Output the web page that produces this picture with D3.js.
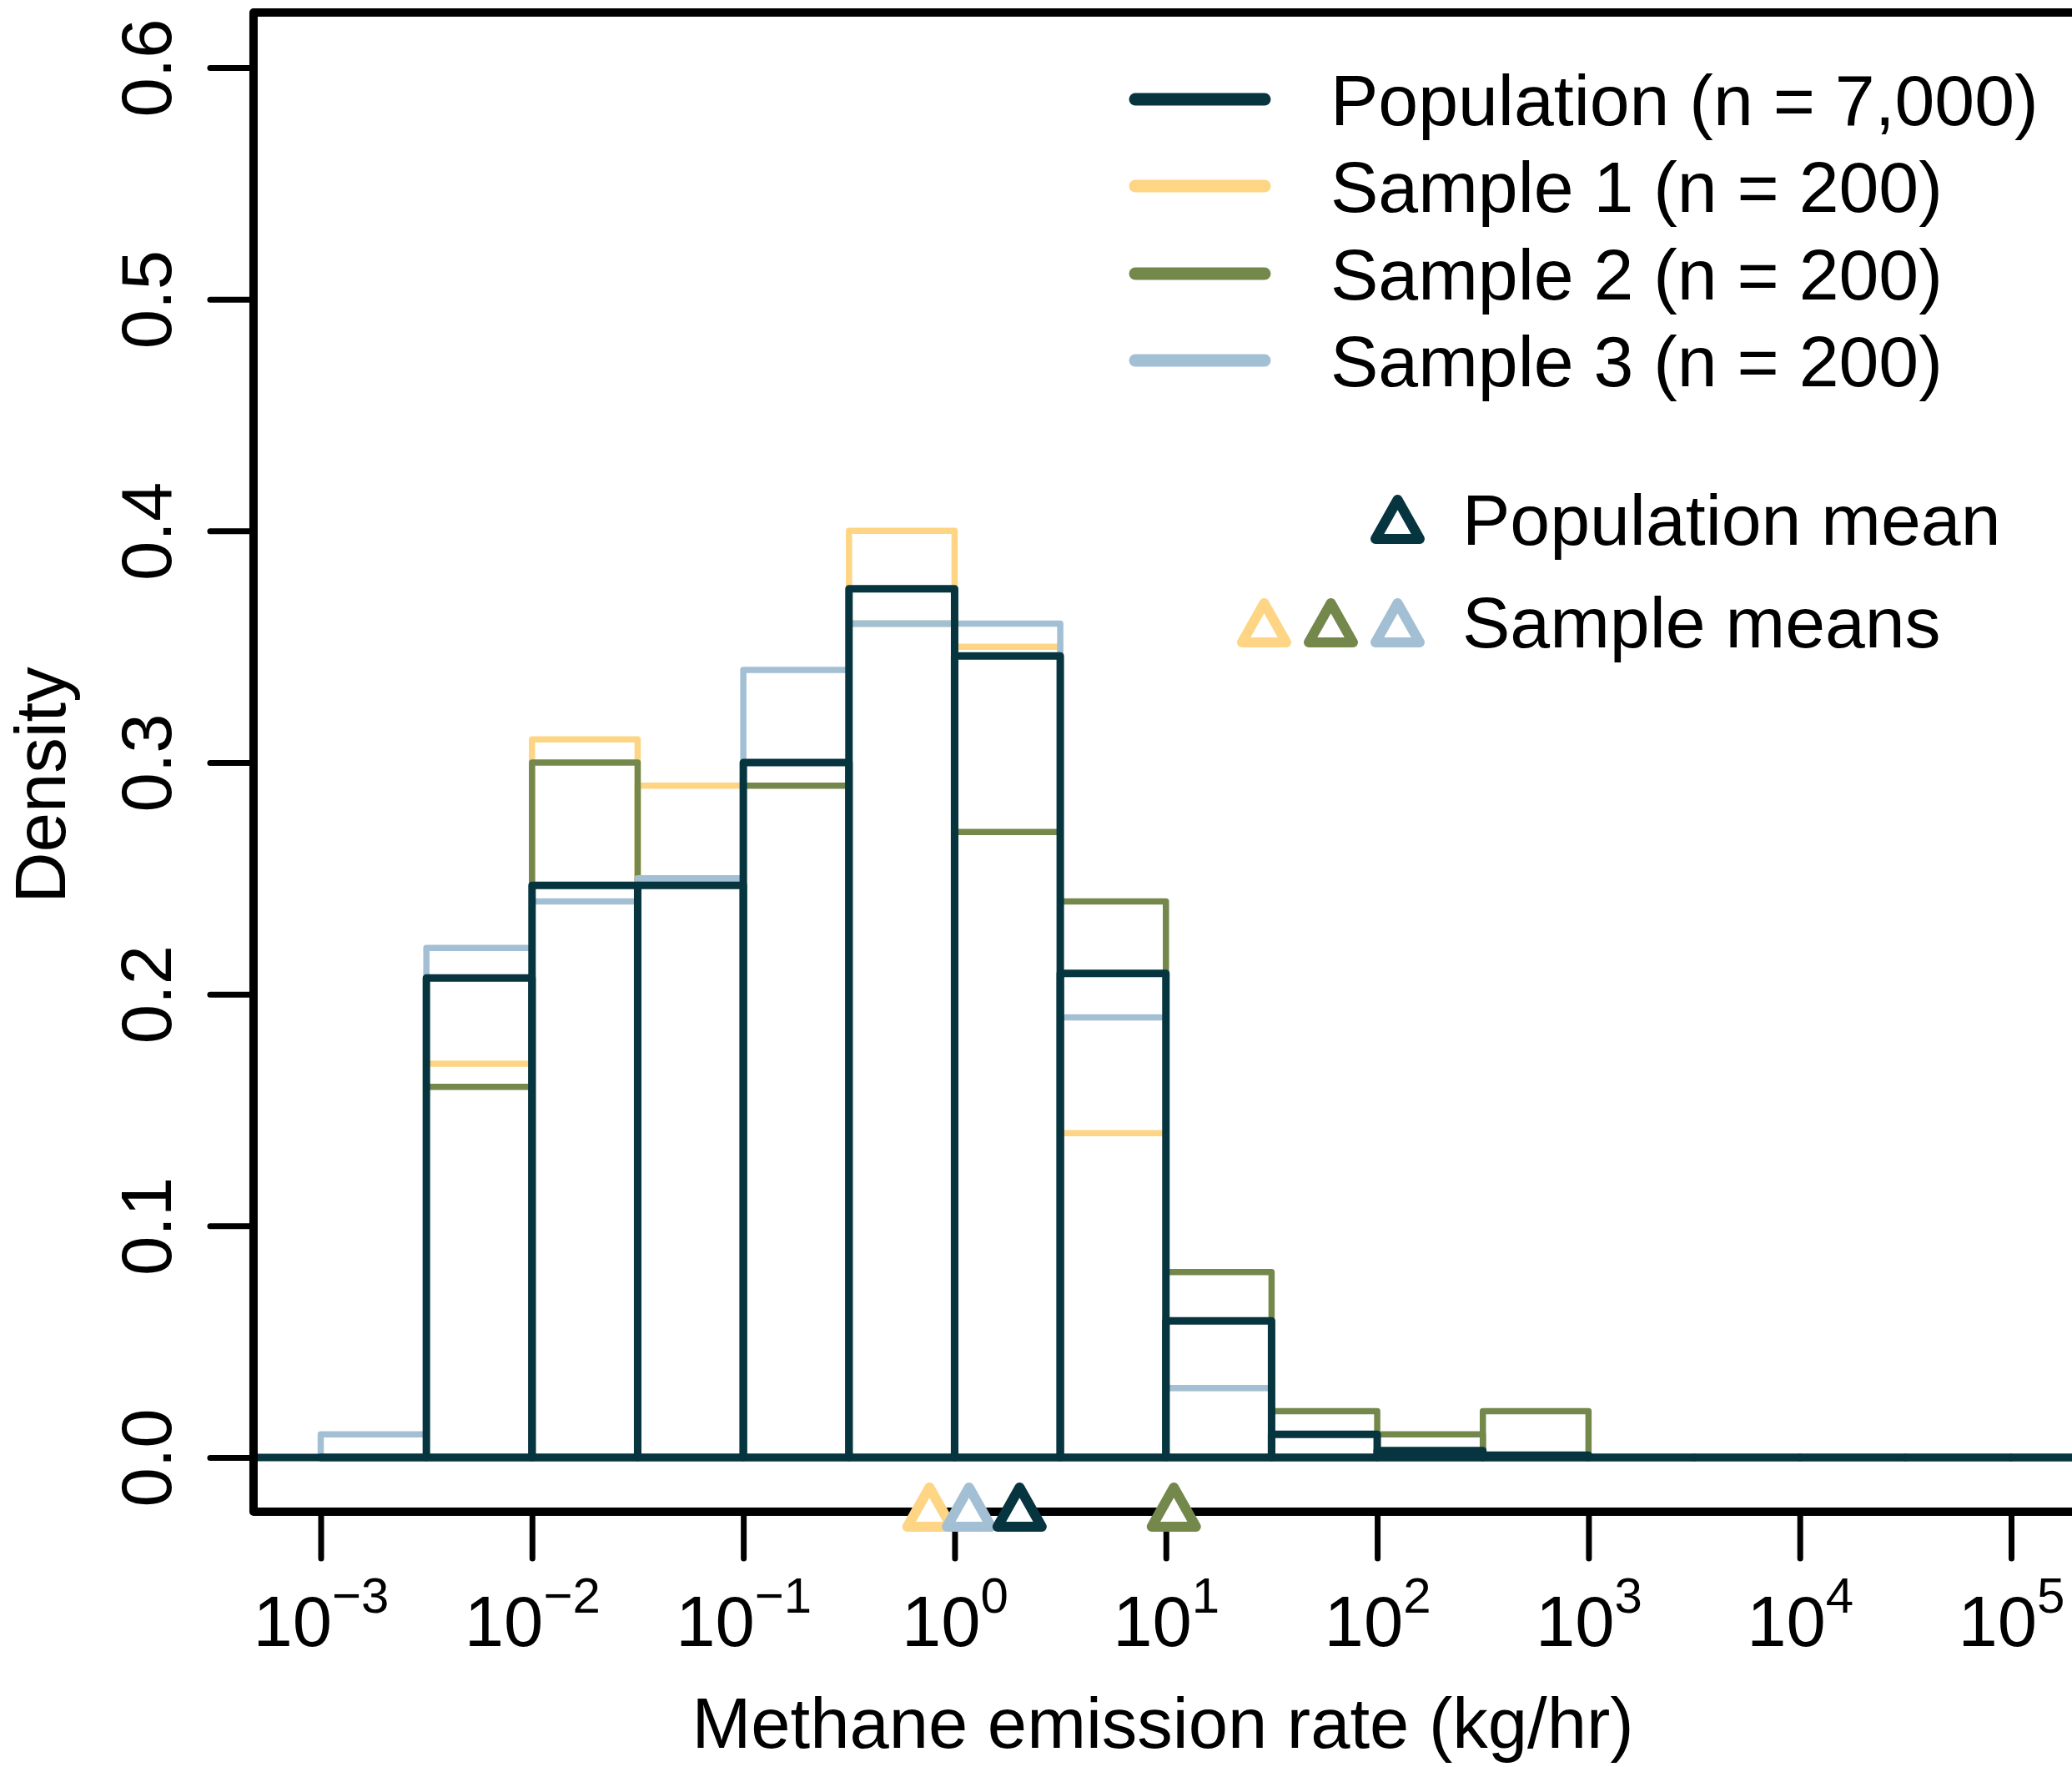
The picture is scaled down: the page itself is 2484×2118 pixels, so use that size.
<!DOCTYPE html>
<html><head><meta charset="utf-8">
<script src="https://cdn.jsdelivr.net/npm/d3@7"></script>
<style>
html,body{margin:0;padding:0;background:#fff;}
svg{display:block;}
text{font-family:"Liberation Sans",Arial,Helvetica,sans-serif;fill:#000;}
</style>
</head><body>
<svg id="chart" width="2484" height="2118"></svg>
<script>
// ---------- data ----------
const binStartsLog10 = [-3,-2.5,-2,-1.5,-1,-0.5,0,0.5,1,1.5,2,2.5,3,3.5,4,4.5,5];
const binWidthLog10 = 0.5;
const populationDensity = [0,0.207,0.247,0.247,0.300,0.375,0.346,0.209,0.059,0.010,0.003,0.001,0,0,0,0,0];
const sample1Density    = [0,0.17,0.31,0.29,0.30,0.40,0.35,0.14,0.03,0.01,0,0,0,0,0,0,0];
const sample2Density    = [0,0.16,0.30,0.25,0.29,0.36,0.27,0.24,0.08,0.02,0.01,0.02,0,0,0,0,0];
const sample3Density    = [0.01,0.22,0.24,0.25,0.34,0.36,0.36,0.19,0.03,0,0,0,0,0,0,0,0];
const seriesNames  = ["Population (n = 7,000)","Sample 1 (n = 200)","Sample 2 (n = 200)","Sample 3 (n = 200)"];
const seriesColors = ["#06343f","#fdd584","#75884c","#a3bfd4"];
const meanValues   = [2.03, 0.76, 10.9, 1.17]; // population, sample 1, sample 2, sample 3
const xTickExponents = [-3,-2,-1,0,1,2,3,4,5];
const yTickValues = [0,0.1,0.2,0.3,0.4,0.5,0.6];
const xAxisTitle = "Methane emission rate (kg/hr)";
const yAxisTitle = "Density";
const meanLegendLabels = ["Population mean","Sample means"];

// ---------- layout ----------
const svg = d3.select("#chart");
const x = d3.scaleLog().domain([1e-3, 1e5]).range([384.5, 2411]);
const y = d3.scaleLinear().domain([0, 0.6]).range([1747, 81]);
const boxLeft = x(Math.pow(10, -3.318)), boxTop = 15, boxBottom = 1812, boxRight = 2700;
const FS = 85;

// histograms (samples first, population on top)
const seriesData = [populationDensity, sample1Density, sample2Density, sample3Density];
const drawOrder = [1, 2, 3, 0];
const gHist = svg.append("g");
drawOrder.forEach(si => {
  const vals = seriesData[si];
  const isPop = si === 0;
  const bins = binStartsLog10.map((a, i) => ({a, v: vals[i]})).filter(d => isPop || d.v > 0);
  if (isPop) {
    gHist.append("line")
      .attr("x1", boxLeft).attr("x2", boxRight)
      .attr("y1", y(0)).attr("y2", y(0))
      .attr("stroke", seriesColors[0]).attr("stroke-width", 9);
  }
  gHist.append("g").selectAll("path").data(bins).join("path")
    .attr("d", d => {
      const p = d3.path();
      const x0 = x(Math.pow(10, d.a)), x1 = x(Math.pow(10, d.a + binWidthLog10));
      p.moveTo(x0, y(0)); p.lineTo(x0, y(d.v)); p.lineTo(x1, y(d.v)); p.lineTo(x1, y(0)); p.closePath();
      return p.toString();
    })
    .attr("fill", "none")
    .attr("stroke", seriesColors[si])
    .attr("stroke-width", isPop ? 9 : 7.5)
    .attr("stroke-linejoin", "round").attr("stroke-linecap", "round");
});

// box
svg.append("path")
  .attr("d", `M${boxRight},${boxTop}H${boxLeft}V${boxBottom}H${boxRight}`)
  .attr("fill", "none").attr("stroke", "#000").attr("stroke-width", 10)
  .attr("stroke-linejoin", "round");

// y axis
const yAxis = svg.append("g").attr("transform", `translate(${boxLeft},0)`)
  .call(d3.axisLeft(y).tickValues(yTickValues).tickSize(52).tickFormat(d3.format(".1f")));
yAxis.select(".domain").remove();
yAxis.selectAll(".tick line").attr("stroke", "#000").attr("stroke-width", 7).attr("stroke-linecap", "round");
yAxis.selectAll(".tick text")
  .attr("x", null).attr("dy", null)
  .attr("transform", `translate(-99,0) rotate(-90)`)
  .attr("text-anchor", "middle")
  .attr("font-size", FS).attr("font-family", null).attr("fill", "#000");

// x axis
const xAxis = svg.append("g").attr("transform", `translate(0,${boxBottom})`)
  .call(d3.axisBottom(x).tickValues(xTickExponents.map(e => Math.pow(10, e))).tickSize(56).tickFormat(() => ""));
xAxis.select(".domain").remove();
xAxis.selectAll(".tick line").attr("stroke", "#000").attr("stroke-width", 7).attr("stroke-linecap", "round");
xAxis.selectAll(".tick text").each(function(d, i) {
  const t = d3.select(this).attr("y", 161).attr("dy", null).attr("text-anchor", "middle")
    .attr("font-size", FS).attr("font-family", null).attr("fill", "#000").text("");
  t.append("tspan").text("10");
  const e = xTickExponents[i];
  t.append("tspan").attr("dy", -40).attr("font-size", 60).text(e < 0 ? "\u2212" + Math.abs(e) : String(e));
});

// axis titles
svg.append("text").attr("x", 1394).attr("y", 2095).attr("text-anchor", "middle")
  .attr("font-size", FS).text(xAxisTitle);
svg.append("text").attr("transform", "translate(78,941) rotate(-90)").attr("text-anchor", "middle")
  .attr("font-size", FS).text(yAxisTitle);

// triangle marker (open triangle, white inside)
function tri(g, cx, cy, color) {
  const h = 47, w = 53;
  g.append("path")
    .attr("d", `M${cx},${cy - h/2}L${cx + w/2},${cy + h/2}L${cx - w/2},${cy + h/2}Z`)
    .attr("fill", "#fff").attr("stroke", color).attr("stroke-width", 12)
    .attr("stroke-linejoin", "round");
}

// mean markers (samples first, population on top)
const gMeans = svg.append("g");
[2, 1, 3, 0].forEach(si => tri(gMeans, x(meanValues[si]), 1806.5, seriesColors[si]));

// legend
const gLeg = svg.append("g");
const legY = [119, 223, 328, 432];
seriesNames.forEach((name, i) => {
  gLeg.append("line").attr("x1", 1361).attr("x2", 1516).attr("y1", legY[i]).attr("y2", legY[i])
    .attr("stroke", seriesColors[i]).attr("stroke-width", 15).attr("stroke-linecap", "round");
  gLeg.append("text").attr("x", 1595).attr("y", legY[i] + 31).attr("font-size", 86).text(name);
});

// mean legend
tri(gLeg, 1675.5, 622.5, seriesColors[0]);
gLeg.append("text").attr("x", 1753).attr("y", 653).attr("font-size", 86).text(meanLegendLabels[0]);
[1, 2, 3].forEach((si, k) => tri(gLeg, 1515.5 + k * 80, 746.5, seriesColors[si]));
gLeg.append("text").attr("x", 1753).attr("y", 776).attr("font-size", 86).text(meanLegendLabels[1]);
</script>
</body></html>
